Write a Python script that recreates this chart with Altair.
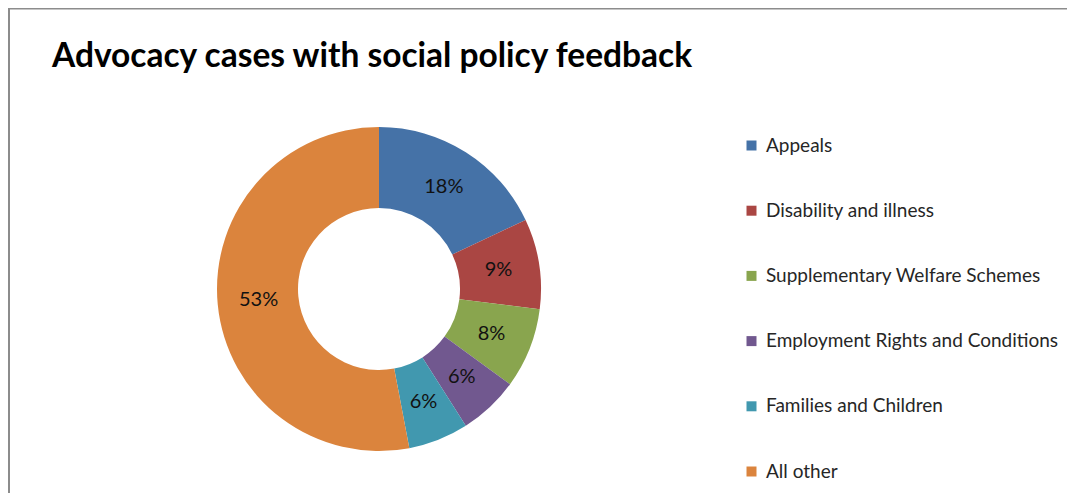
import altair as alt
import pandas as pd

TITLE = "Advocacy cases with social policy feedback"
categories = ["Appeals", "Disability and illness", "Supplementary Welfare Schemes",
              "Employment Rights and Conditions", "Families and Children", "All other"]
values = [18, 9, 8, 6, 6, 53]
colors = ["#4572A7", "#AA4643", "#89A54E", "#71588F", "#4198AF", "#DB843D"]

df = pd.DataFrame({
    "category": categories,
    "value": values,
    "order": list(range(len(categories))),
    "label": [f"{v}%" for v in values],
})

W, H = 1059, 485
CX, CY = 371, 281

theta = alt.Theta("value:Q", stack=True)
order = alt.Order("order:Q")

arcs = alt.Chart(df).mark_arc(radius=162, radius2=81).encode(
    theta=theta,
    order=order,
    x=alt.value(CX),
    y=alt.value(CY),
    color=alt.Color(
        "category:N",
        scale=alt.Scale(domain=categories, range=colors),
        title=None,
        legend=alt.Legend(
            orient="none", legendX=734, legendY=128, padding=0,
            symbolType="square", symbolSize=100, symbolStrokeWidth=0,
            labelFont="Lato", labelFontSize=19, labelColor="#262626",
            labelOffset=5, rowPadding=45.2, labelLimit=400,
        ),
    ),
)

labels = alt.Chart(df).mark_text(radius=121, font="Lato", fontSize=20, color="#111111").encode(
    theta=theta,
    order=order,
    x=alt.value(CX),
    y=alt.value(CY),
    text="label:N",
)

title = alt.Chart(alt.Data(values=[{"t": TITLE}])).mark_text(
    align="left", baseline="alphabetic", font="Lato", fontSize=33.5, fontWeight="bold", color="#000000"
).encode(x=alt.value(44), y=alt.value(59), text="t:N")

border_top = alt.Chart(alt.Data(values=[{"a": 1}])).mark_rule(color="#8c8c8c", strokeWidth=2).encode(
    x=alt.value(0), x2=alt.value(W), y=alt.value(0.5)
)
border_left = alt.Chart(alt.Data(values=[{"a": 1}])).mark_rule(color="#8c8c8c", strokeWidth=2).encode(
    x=alt.value(1), y=alt.value(0), y2=alt.value(H)
)

chart = alt.layer(border_top, border_left, arcs, labels, title).properties(
    width=W, height=H,
    autosize=alt.AutoSizeParams(type="none"),
    padding=0,
).configure_view(stroke=None)

chart.save("out.html", embed_options={"renderer": "svg", "actions": False})
